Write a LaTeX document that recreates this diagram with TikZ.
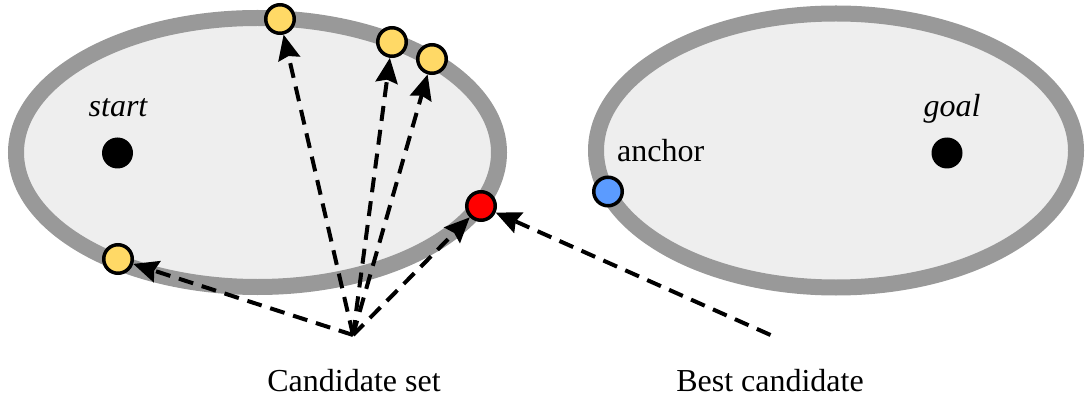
\documentclass[tikz,border=0pt]{standalone}
\usepackage{fontspec}
\setmainfont{Liberation Serif}
\usetikzlibrary{arrows.meta}
\definecolor{band}{HTML}{999999}
\definecolor{inner}{HTML}{EEEEEE}
\definecolor{cand}{HTML}{FFD966}
\definecolor{best}{HTML}{FF0000}
\definecolor{anch}{HTML}{5B9BFF}
\tikzset{
  region/.style={draw=band, fill=inner, line width=16pt},
  pt/.style={circle, draw=black, line width=3.5pt, minimum size=28.5pt, inner sep=0pt},
  candpt/.style={pt, fill=cand},
  bigdot/.style={circle, fill=black, minimum size=31pt, inner sep=0pt},
  conn/.style={dashed, dash pattern=on 15pt off 9pt, line width=4pt, -{Stealth[length=25pt,width=22pt,inset=3pt]}},
  lbl/.style={font=\fontsize{32}{38}\selectfont, inner sep=0pt, anchor=base},
}
\begin{document}
\begin{tikzpicture}[x=1pt,y=-1pt]
\useasboundingbox (0,0) rectangle (1086,398);
% regions
\draw[region] (257.5,152.5) ellipse [x radius=241.5, y radius=134.5];
\draw[region] (836,150.5) ellipse [x radius=240, y radius=137];
% dots and labels
\node[bigdot] (start) at (117.5,153) {};
\node[lbl, font=\fontsize{32}{38}\selectfont\itshape] (startlbl) at (118,117) {start};
\node[bigdot] (goal) at (947,153) {};
\node[lbl, font=\fontsize{32}{38}\selectfont\itshape] (goallbl) at (952,117) {goal};
\node[lbl, anchor=base west] (anchorlbl) at (617,162) {anchor};
\node[lbl] (candlbl) at (354,391) {Candidate set};
\node[lbl] (bestlbl) at (770,391) {Best candidate};
% candidate points
\node[candpt] (c1) at (280,19) {};
\node[candpt] (c2) at (392,42) {};
\node[candpt] (c3) at (432,59) {};
\node[candpt] (c4) at (118,259) {};
\node[pt, fill=best] (red) at (481,206) {};
\node[pt, fill=anch] (anchor) at (608,191.5) {};
% connectors
\coordinate (apex) at (353,335);
\coordinate (bestsrc) at (770.5,335);
\draw[conn] (apex) -- (c1);
\draw[conn] (apex) -- (c2);
\draw[conn] (apex) -- (c3);
\draw[conn] (apex) -- (c4);
\draw[conn] (apex) -- (red);
\draw[conn] (bestsrc) -- (red);
\end{tikzpicture}
\end{document}
